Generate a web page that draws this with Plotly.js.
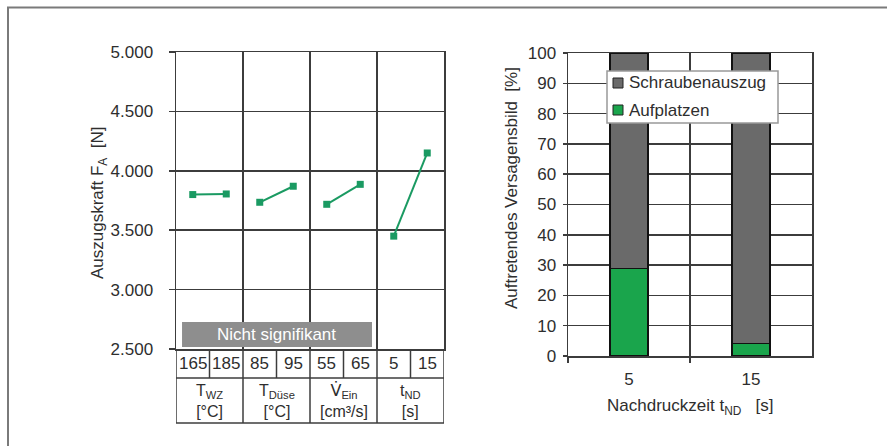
<!DOCTYPE html>
<html>
<head>
<meta charset="utf-8">
<script src="https://cdn.plot.ly/plotly-3.0.1.min.js"></script>
<style>html,body{margin:0;padding:0;background:#fff;}#chart{width:887px;height:446px;}</style>
</head>
<body>
<div id="chart"></div>
<script>
// ---- Data: left chart (main effects) ----
const factorNames = ["T<sub>WZ</sub><br>[°C]", "T<sub>Düse</sub><br>[°C]",
  "<span style=\"font-family:'DejaVu Sans'\">V\u0307</span><sub>Ein</sub><br>[cm³/s]", "t<sub>ND</sub><br>[s]"];
const levelLabels = ["165", "185", "85", "95", "55", "65", "5", "15"];
const effectLow  = [3800, 3735, 3718, 3450];
const effectHigh = [3805, 3870, 3886, 4150];
const yTickVals = [2500, 3000, 3500, 4000, 4500, 5000];
const yTickText = ["2.500", "3.000", "3.500", "4.000", "4.500", "5.000"];
const nsLabel = "Nicht signifikant";

// ---- Data: right chart (failure modes) ----
const holdTimes = ["5", "15"];
const aufplatzen = [29, 4];
const schraubenauszug = [71, 96];
const seriesNames = ["Schraubenauszug", "Aufplatzen"];

const FONT = "Liberation Sans, Arial, sans-serif";
const GRID = "#3c3c3c";
const TXT = "#2e2e2e";
const LINEGREEN = "#1a9a62";
const BARGREEN = "#1aa54c";
const BARGRAY = "#6a6a6a";

const traces = [];
for (let i = 0; i < effectLow.length; i++) {
  traces.push({
    type: "scatter", mode: "lines+markers",
    x: [2 * i + 0.5, 2 * i + 1.5], y: [effectLow[i], effectHigh[i]],
    xaxis: "x", yaxis: "y",
    line: {color: LINEGREEN, width: 2},
    marker: {symbol: "square", size: 7, color: LINEGREEN},
    showlegend: false, hoverinfo: "skip"
  });
}
traces.push({
  type: "bar", name: seriesNames[1], x: holdTimes, y: aufplatzen,
  xaxis: "x2", yaxis: "y2", width: 0.31, showlegend: false,
  marker: {color: BARGREEN, line: {color: "#111", width: 1.2}}
});
traces.push({
  type: "bar", name: seriesNames[0], x: holdTimes, y: schraubenauszug,
  xaxis: "x2", yaxis: "y2", width: 0.31, showlegend: false,
  marker: {color: BARGRAY, line: {color: "#111", width: 1.2}}
});

const P = (px) => px / 887;
const Q = (py) => 1 - py / 446;

const shapes = [];
const annotations = [];
const ann = (o) => annotations.push(Object.assign({showarrow: false, xanchor: "center", yanchor: "middle"}, o));

// outer frame (top + left visible)
shapes.push({type: "rect", xref: "paper", yref: "paper", x0: P(8), x1: 1.02, y0: -0.02, y1: Q(7.5),
  line: {color: "#7a7a7a", width: 2}, layer: "below"});

// "Nicht signifikant" box
shapes.push({type: "rect", xref: "x", yref: "y", x0: 0.18, x1: 5.85, y0: 2517, y1: 2727,
  fillcolor: "#8e8e8e", line: {width: 0}, layer: "above"});
ann({xref: "x", yref: "y", x: 3.0, y: 2622, text: nsLabel,
  font: {family: FONT, size: 17, color: "#ffffff"}});

// table under left chart
const rowTop = Q(349), rowMid = Q(378), rowBot = Q(423);
const tl = {color: GRID, width: 1.5};
shapes.push({type: "line", xref: "x", yref: "paper", x0: 0, x1: 8, y0: rowMid, y1: rowMid, line: tl});
shapes.push({type: "line", xref: "x", yref: "paper", x0: 0, x1: 8, y0: rowBot, y1: rowBot, line: tl});
for (let b = 0; b <= 8; b += 2) {
  shapes.push({type: "line", xref: "x", yref: "paper", x0: b, x1: b, y0: rowTop, y1: rowBot, line: tl});
}
for (let b = 1; b < 8; b += 2) {
  shapes.push({type: "line", xref: "x", yref: "paper", x0: b, x1: b, y0: rowTop, y1: rowMid, line: tl});
}
levelLabels.forEach((t, i) => {
  ann({xref: "x", yref: "paper", x: i + 0.5, y: (rowTop + rowMid) / 2, text: t,
    font: {family: FONT, size: 17, color: TXT}});
});
factorNames.forEach((t, i) => {
  ann({xref: "x", yref: "paper", x: 2 * i + 1, y: (rowMid + rowBot) / 2, text: t,
    font: {family: FONT, size: 16, color: TXT}});
});

// axis titles
ann({xref: "paper", yref: "paper", x: P(99), y: Q(203), text: "Auszugskraft F<sub>A</sub>  [N]",
  textangle: -90, font: {family: FONT, size: 17, color: TXT}});
ann({xref: "paper", yref: "paper", x: P(511), y: Q(188), text: "Auftretendes Versagensbild  [%]",
  textangle: -90, font: {family: FONT, size: 17, color: TXT}});
ann({xref: "paper", yref: "paper", x: P(690), y: Q(407), text: "Nachdruckzeit t<sub>ND</sub>   [s]",
  font: {family: FONT, size: 17, color: TXT}});

// custom legend box
shapes.push({type: "rect", xref: "paper", yref: "paper", x0: P(607), x1: P(778), y0: Q(123), y1: Q(71),
  fillcolor: "#ffffff", line: {color: "#999", width: 1.5}, layer: "above"});
const legColors = [BARGRAY, BARGREEN];
const legY = [83, 110];
seriesNames.forEach((n, i) => {
  shapes.push({type: "rect", xref: "paper", yref: "paper", x0: P(613), x1: P(623),
    y0: Q(legY[i] + 5), y1: Q(legY[i] - 5), fillcolor: legColors[i],
    line: {color: "#222", width: 1}, layer: "above"});
  ann({xref: "paper", yref: "paper", x: P(627), y: Q(legY[i]), xanchor: "left", text: n,
    font: {family: FONT, size: 17, color: TXT}});
});

const layout = {
  width: 887, height: 446,
  margin: {l: 0, r: 0, t: 0, b: 0},
  paper_bgcolor: "#ffffff", plot_bgcolor: "#ffffff",
  font: {family: FONT, size: 17, color: TXT},
  barmode: "stack",
  showlegend: false,
  xaxis: {domain: [P(176), P(444)], range: [0, 8], tickvals: [0, 2, 4, 6, 8], showticklabels: false,
    ticks: "", showgrid: true, gridcolor: GRID, gridwidth: 1.5, zeroline: false,
    showline: true, mirror: true, linecolor: GRID, linewidth: 1.5, anchor: "y"},
  yaxis: {domain: [Q(349), Q(52)], range: [2500, 5000], tickvals: yTickVals, ticktext: yTickText,
    ticks: "outside", ticklen: 6, tickcolor: GRID, tickwidth: 1.5, ticklabelstandoff: 12,
    showgrid: true, gridcolor: GRID, gridwidth: 1.5, zeroline: false,
    showline: true, mirror: true, linecolor: GRID, linewidth: 1.5, anchor: "x",
    tickfont: {family: FONT, size: 17, color: TXT}},
  xaxis2: {domain: [P(568), P(812)], type: "category", tickson: "boundaries",
    ticks: "outside", ticklen: 5, tickcolor: GRID, tickwidth: 1.5, ticklabelstandoff: 7,
    showgrid: true, gridcolor: GRID, gridwidth: 1.5, zeroline: false,
    showline: true, mirror: true, linecolor: GRID, linewidth: 1.5, anchor: "y2",
    tickfont: {family: FONT, size: 17, color: TXT}},
  yaxis2: {domain: [Q(356), Q(53)], range: [0, 100], dtick: 10,
    ticks: "outside", ticklen: 4, tickcolor: GRID, tickwidth: 1.5, ticklabelstandoff: 3,
    showgrid: true, gridcolor: GRID, gridwidth: 1.5, zeroline: false,
    showline: true, mirror: true, linecolor: GRID, linewidth: 1.5, anchor: "x2",
    tickfont: {family: FONT, size: 17, color: TXT}},
  shapes: shapes,
  annotations: annotations
};

Plotly.newPlot("chart", traces, layout, {displayModeBar: false, staticPlot: true});
</script>
</body>
</html>
